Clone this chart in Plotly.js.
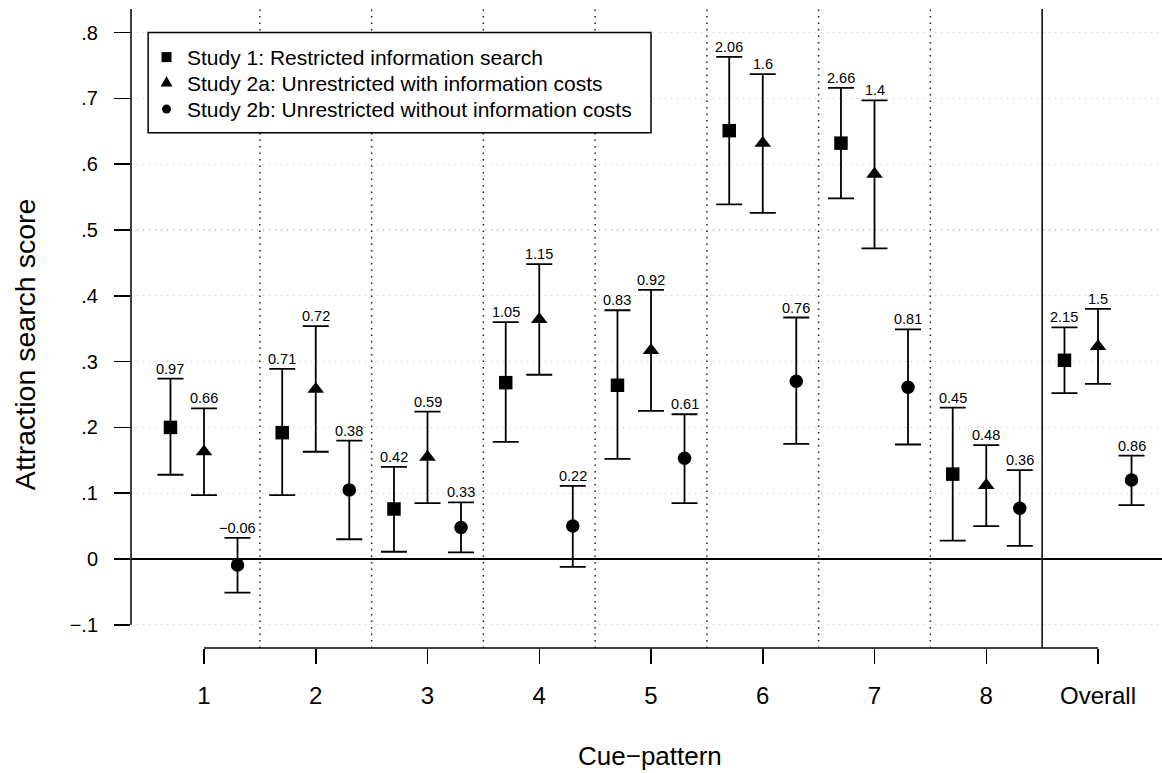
<!DOCTYPE html>
<html>
<head>
<meta charset="utf-8">
<script src="https://cdn.plot.ly/plotly-3.0.1.min.js"></script>
<style>html,body{margin:0;padding:0;background:#fff;}#chart{width:1162px;height:773px;}</style>
</head>
<body>
<div id="chart"></div>
<script>
// ---- data ----
const categories = [1, 2, 3, 4, 5, 6, 7, 8, 9];
const categoryLabels = ["1", "2", "3", "4", "5", "6", "7", "8", "Overall"];
const yTickValues = [-0.1, 0, 0.1, 0.2, 0.3, 0.4, 0.5, 0.6, 0.7, 0.8];
const yTickLabels = ["\u2212.1", "0", ".1", ".2", ".3", ".4", ".5", ".6", ".7", ".8"];
const xTitle = "Cue\u2212pattern";
const yTitle = "Attraction search score";

const seriesNames = [
  "Study 1: Restricted information search",
  "Study 2a: Unrestricted with information costs",
  "Study 2b: Unrestricted without information costs"
];

// Study 1 (squares)
const s1Mean  = [0.200, 0.192, 0.076, 0.268, 0.264, 0.651, 0.632, 0.129, 0.302];
const s1Lower = [0.128, 0.097, 0.011, 0.178, 0.152, 0.539, 0.548, 0.028, 0.252];
const s1Upper = [0.274, 0.289, 0.140, 0.360, 0.378, 0.763, 0.716, 0.230, 0.352];
const s1Labels = ["0.97", "0.71", "0.42", "1.05", "0.83", "2.06", "2.66", "0.45", "2.15"];

// Study 2a (triangles)
const s2aMean  = [0.163, 0.258, 0.155, 0.364, 0.317, 0.632, 0.585, 0.112, 0.323];
const s2aLower = [0.097, 0.163, 0.085, 0.280, 0.225, 0.526, 0.472, 0.050, 0.266];
const s2aUpper = [0.229, 0.354, 0.224, 0.448, 0.409, 0.737, 0.697, 0.173, 0.380];
const s2aLabels = ["0.66", "0.72", "0.59", "1.15", "0.92", "1.6", "1.4", "0.48", "1.5"];

// Study 2b (circles)
const s2bMean  = [-0.009, 0.105, 0.048, 0.050, 0.153, 0.270, 0.261, 0.077, 0.120];
const s2bLower = [-0.051, 0.030, 0.010, -0.012, 0.085, 0.175, 0.174, 0.020, 0.082];
const s2bUpper = [0.032, 0.180, 0.086, 0.111, 0.220, 0.367, 0.349, 0.135, 0.157];
const s2bLabels = ["\u22120.06", "0.38", "0.33", "0.22", "0.61", "0.76", "0.81", "0.36", "0.86"];

// ---- styling ----
const FONT = "Liberation Sans, Arial, Helvetica, sans-serif";
const series = [
  {mean: s1Mean,  lo: s1Lower,  hi: s1Upper,  labels: s1Labels,  offset: -0.3, symbol: "square",      size: 13.5},
  {mean: s2aMean, lo: s2aLower, hi: s2aUpper, labels: s2aLabels, offset: 0,    symbol: "triangle-up", size: 14.5},
  {mean: s2bMean, lo: s2bLower, hi: s2bUpper, labels: s2bLabels, offset: 0.3,  symbol: "circle",      size: 13.5}
];

const traces = series.map((s, k) => ({
  type: "scatter",
  mode: "markers",
  name: seriesNames[k],
  x: categories.map(c => c + s.offset),
  y: s.mean,
  marker: {symbol: s.symbol, size: s.size, color: "black", line: {width: 0}},
  error_y: {
    type: "data", symmetric: false,
    array: s.hi.map((h, i) => h - s.mean[i]),
    arrayminus: s.lo.map((l, i) => s.mean[i] - l),
    color: "black", thickness: 1.8, width: 13
  },
  showlegend: false,
  hoverinfo: "skip"
}));

const annotations = [];
series.forEach(s => {
  s.labels.forEach((lab, i) => {
    annotations.push({
      x: categories[i] + s.offset, y: s.hi[i], xref: "x", yref: "y",
      text: lab, showarrow: false, xanchor: "center", yanchor: "bottom",
      yshift: 1, borderpad: 0, font: {family: FONT, size: 14.5, color: "black"}
    });
  });
});

// axis titles
annotations.push({
  text: xTitle, xref: "paper", yref: "paper", x: 0.5034, y: -0.169,
  xanchor: "center", yanchor: "middle", showarrow: false, borderpad: 0,
  font: {family: FONT, size: 26, color: "black"}
});
annotations.push({
  text: yTitle, xref: "paper", yref: "paper", x: -0.1028, y: 0.474, textangle: -90,
  xanchor: "center", yanchor: "middle", showarrow: false, borderpad: 0,
  font: {family: FONT, size: 28.5, color: "black"}
});

// legend (drawn manually, R style)
const legendX = 0.5, legendY = 0.8, legendX2 = 5.0, legendY2 = 0.648;
const rowShift = [-24.5, -50.5, -76.5];
seriesNames.forEach((nm, k) => {
  annotations.push({
    x: legendX, y: legendY, xref: "x", yref: "y", xanchor: "left", yanchor: "middle",
    xshift: 37.4, yshift: rowShift[k], text: nm, showarrow: false, borderpad: 0,
    font: {family: FONT, size: 21, color: "black"}
  });
});

const shapes = [];
// boundaries between categories
categories.slice(0, -1).forEach((c, i) => {
  const last = i === categories.length - 2;
  shapes.push({
    type: "line", xref: "x", yref: "paper", x0: c + 0.5, x1: c + 0.5, y0: 0, y1: 1,
    line: last ? {color: "black", width: 1.5} : {color: "#222", width: 1.5, dash: "1.5px,5px"}
  });
});
const yRange = [-0.1353, 0.8359];
// y axis line
shapes.push({type: "line", xref: "paper", yref: "y", x0: 0, x1: 0, y0: yTickValues[0], y1: yRange[1],
  line: {color: "black", width: 1.5}});
// x axis line
shapes.push({type: "line", xref: "x", yref: "paper", x0: categories[0], x1: categories[categories.length - 1], y0: 0, y1: 0,
  line: {color: "black", width: 1.5}});
// legend box
shapes.push({type: "rect", xref: "x", yref: "y", x0: legendX, x1: legendX2, y0: legendY2, y1: legendY,
  line: {color: "black", width: 1.5}, fillcolor: "white"});
// legend symbols
const symX = 18.4;
shapes.push({type: "rect", xref: "x", yref: "y", xsizemode: "pixel", ysizemode: "pixel",
  xanchor: legendX, yanchor: legendY, x0: symX - 5, x1: symX + 5, y0: rowShift[0] - 5, y1: rowShift[0] + 5,
  fillcolor: "black", line: {width: 0}});
shapes.push({type: "path", xref: "x", yref: "y", xsizemode: "pixel", ysizemode: "pixel",
  xanchor: legendX, yanchor: legendY,
  path: `M${symX - 6},${rowShift[1] - 3.5} L${symX + 6},${rowShift[1] - 3.5} L${symX},${rowShift[1] + 6.9} Z`,
  fillcolor: "black", line: {width: 0}});
shapes.push({type: "circle", xref: "x", yref: "y", xsizemode: "pixel", ysizemode: "pixel",
  xanchor: legendX, yanchor: legendY, x0: symX - 4.5, x1: symX + 4.5, y0: rowShift[2] - 4.5, y1: rowShift[2] + 4.5,
  fillcolor: "black", line: {width: 0}});

const layout = {
  width: 1162, height: 773,
  margin: {l: 131, r: 0, t: 9, b: 125, pad: 0},
  paper_bgcolor: "white", plot_bgcolor: "white",
  font: {family: FONT, color: "black"},
  showlegend: false,
  xaxis: {
    range: [0.3468, 9.5727], tickvals: categories, ticktext: categoryLabels,
    ticks: "outside", ticklen: 15, tickwidth: 1.5, tickcolor: "black",
    ticklabelstandoff: 11,
    showline: false, showgrid: false, zeroline: false,
    tickfont: {family: FONT, size: 24, color: "black"},
    automargin: false, fixedrange: true
  },
  yaxis: {
    range: yRange, tickvals: yTickValues, ticktext: yTickLabels,
    ticks: "outside", ticklen: 16, tickwidth: 1.5, tickcolor: "black",
    ticklabelstandoff: 12,
    showline: false, showgrid: true, gridcolor: "#c4c4c4", gridwidth: 1.3, griddash: "1px,5px",
    zeroline: true, zerolinecolor: "black", zerolinewidth: 1.5,
    tickfont: {family: FONT, size: 20, color: "black"},
    automargin: false, fixedrange: true
  },
  shapes: shapes,
  annotations: annotations
};

Plotly.newPlot("chart", traces, layout, {displayModeBar: false, staticPlot: true});
</script>
</body>
</html>
